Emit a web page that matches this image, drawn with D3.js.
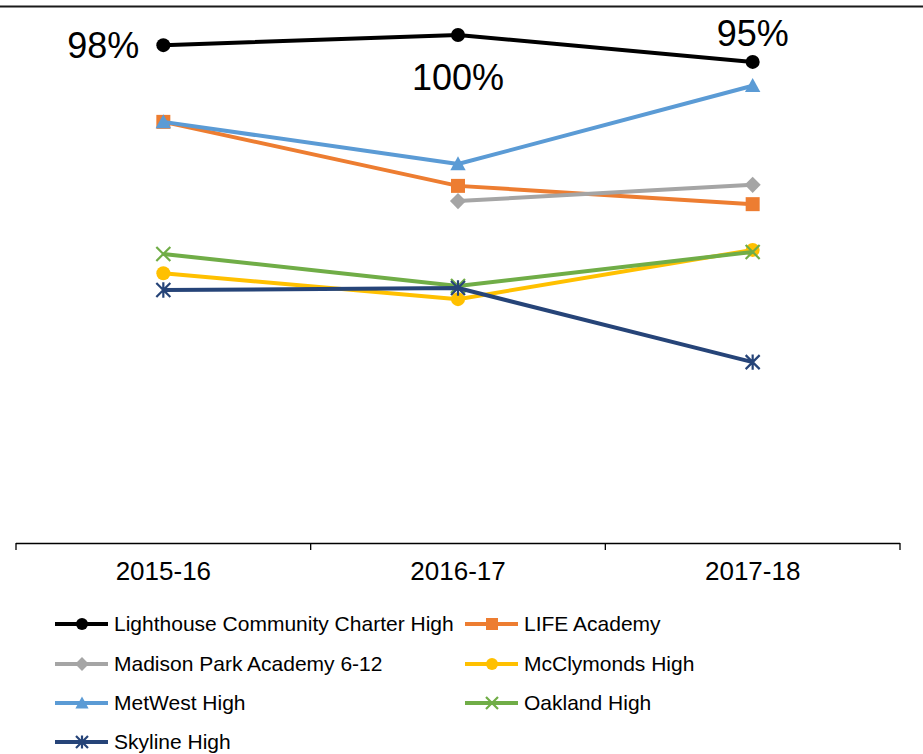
<!DOCTYPE html>
<html>
<head>
<meta charset="utf-8">
<script src="https://cdn.jsdelivr.net/npm/d3@7"></script>
<style>
  html, body { margin: 0; padding: 0; background: #fff; }
  svg { display: block; font-family: "Liberation Sans", Arial, sans-serif; }
</style>
</head>
<body>
<svg></svg>
<script>
// --- data ---
const categories = ["2015-16", "2016-17", "2017-18"];

const lighthouse = [98.0, 100, 94.7];
const lifeAcademy = [82.9, 70.3, 66.7];
const madisonPark = [null, 67.3, 70.5];
const mcclymonds = [53.1, 48.0, 57.7];
const metwest = [82.9, 74.6, 90.0];
const oakland = [56.9, 50.6, 57.3];
const skyline = [49.8, 50.2, 35.6];

const lighthouseLabels = ["98%", "100%", "95%"];

const seriesNames = [
  "Lighthouse Community Charter High", "LIFE Academy",
  "Madison Park Academy 6-12", "McClymonds High",
  "MetWest High", "Oakland High", "Skyline High"
];

function draw() {
  const
    svgWidth = 923,
    svgHeight = 754;

  const svg = d3.select("svg")
    .attr("width", svgWidth)
    .attr("height", svgHeight);

  const series = [
    { name: seriesNames[0], values: lighthouse,  color: "#000000", marker: "circle" },
    { name: seriesNames[1], values: lifeAcademy, color: "#ED7D31", marker: "square" },
    { name: seriesNames[2], values: madisonPark, color: "#A5A5A5", marker: "diamond" },
    { name: seriesNames[3], values: mcclymonds,  color: "#FFC000", marker: "circle" },
    { name: seriesNames[4], values: metwest,     color: "#5B9BD5", marker: "triangle" },
    { name: seriesNames[5], values: oakland,     color: "#70AD47", marker: "x" },
    { name: seriesNames[6], values: skyline,     color: "#264478", marker: "star" }
  ];

  const plot = { left: 16, right: 900, bottom: 543, top: 35 };

  const xScale = d3.scaleBand()
    .domain(categories)
    .range([plot.left, plot.right])
    .padding(0);
  const xc = c => xScale(c) + xScale.bandwidth() / 2;

  const yScale = d3.scaleLinear()
    .domain([0, 100])
    .range([plot.bottom, plot.top]);

  // frame line at the top
  svg.append("line")
    .attr("x1", 0).attr("x2", svgWidth)
    .attr("y1", 6.5).attr("y2", 6.5)
    .attr("stroke", "#1a1a1a")
    .attr("stroke-width", 2.2);

  // x axis: labels through d3.axisBottom, ticks between categories
  const xAxis = d3.axisBottom(xScale)
    .tickSize(0)
    .tickPadding(19);
  const xAxisG = svg.append("g")
    .attr("transform", `translate(0,${plot.bottom})`)
    .call(xAxis);
  xAxisG.select(".domain").remove();
  xAxisG.selectAll(".tick text")
    .attr("fill", "#000")
    .attr("font-size", 26)
    .attr("font-family", "'Liberation Sans', Arial, sans-serif");

  xAxisG.append("line")
    .attr("x1", plot.left).attr("x2", plot.right)
    .attr("y1", 0.5).attr("y2", 0.5)
    .attr("stroke", "#000")
    .attr("stroke-width", 1.3);

  const boundaries = categories.map(c => xScale(c)).concat([plot.right]);
  xAxisG.selectAll(".bound")
    .data(boundaries)
    .enter().append("line")
      .attr("class", "bound")
      .attr("x1", d => d).attr("x2", d => d)
      .attr("y1", 0).attr("y2", 7)
      .attr("stroke", "#000")
      .attr("stroke-width", 1.3);

  // lines
  const lineGenerator = d3.line()
    .defined(d => d.v != null)
    .x(d => xc(d.c))
    .y(d => yScale(d.v));

  const markerPath = (type, s) => {
    switch (type) {
      case "square":
        return `M${-s},${-s}H${s}V${s}H${-s}Z`;
      case "diamond":
        return `M0,${-s * 1.15}L${s * 1.15},0L0,${s * 1.15}L${-s * 1.15},0Z`;
      case "triangle":
        return `M0,${-s * 1.1}L${s * 1.1},${s * 0.9}L${-s * 1.1},${s * 0.9}Z`;
      case "x":
        return `M${-s},${-s}L${s},${s}M${-s},${s}L${s},${-s}`;
      case "star":
        return `M${-s},${-s}L${s},${s}M${-s},${s}L${s},${-s}M0,${-s * 1.1}L0,${s * 1.1}`;
      default:
        return "";
    }
  };

  function drawMarker(g, type, color, x, y, s) {
    if (type === "circle") {
      g.append("circle")
        .attr("cx", x).attr("cy", y)
        .attr("r", s)
        .attr("fill", color);
    } else if (type === "x" || type === "star") {
      g.append("path")
        .attr("transform", `translate(${x},${y})`)
        .attr("d", markerPath(type, s))
        .attr("fill", "none")
        .attr("stroke", color)
        .attr("stroke-width", 2.2);
    } else {
      g.append("path")
        .attr("transform", `translate(${x},${y})`)
        .attr("d", markerPath(type, s))
        .attr("fill", color);
    }
  }

  const linesG = svg.append("g");
  series.forEach(sr => {
    const pts = categories.map((c, i) => ({ c, v: sr.values[i] }));
    const g = linesG.append("g");
    g.append("path")
      .attr("d", lineGenerator(pts))
      .attr("fill", "none")
      .attr("stroke", sr.color)
      .attr("stroke-width", 4)
      .attr("stroke-linejoin", "round");
    pts.filter(d => d.v != null).forEach(d => {
      drawMarker(g, sr.marker, sr.color, xc(d.c), yScale(d.v), 7);
    });
  });

  // data labels on the Lighthouse series
  const labelPlacement = [
    { anchor: "end", dx: -24, dy: 13 },
    { anchor: "middle", dx: 0, dy: 55 },
    { anchor: "middle", dx: 0, dy: -16 }
  ];
  svg.append("g").selectAll("text")
    .data(lighthouseLabels)
    .enter().append("text")
      .attr("x", (d, i) => xc(categories[i]) + labelPlacement[i].dx)
      .attr("y", (d, i) => yScale(lighthouse[i]) + labelPlacement[i].dy)
      .attr("text-anchor", (d, i) => labelPlacement[i].anchor)
      .attr("font-size", 36)
      .attr("fill", "#000")
      .text(d => d);

  // legend
  const legend = svg.append("g");
  const colX = [55, 465];
  const rowY = [624, 664, 703, 742];
  series.forEach((sr, i) => {
    const x0 = colX[i % 2];
    const y0 = rowY[Math.floor(i / 2)];
    const item = legend.append("g");
    item.append("line")
      .attr("x1", x0).attr("x2", x0 + 53)
      .attr("y1", y0).attr("y2", y0)
      .attr("stroke", sr.color)
      .attr("stroke-width", 4);
    drawMarker(item, sr.marker, sr.color, x0 + 27, y0, 6);
    item.append("text")
      .attr("x", x0 + 59)
      .attr("y", y0)
      .attr("dy", "0.35em")
      .attr("font-size", 21)
      .attr("fill", "#000")
      .text(sr.name);
  });
}

draw();
</script>
</body>
</html>
